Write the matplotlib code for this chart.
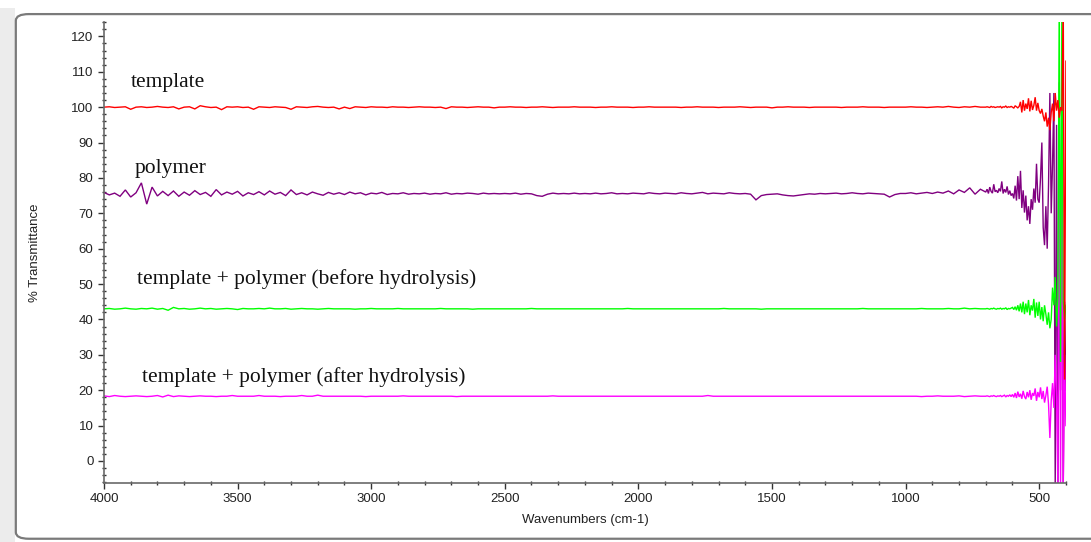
import numpy as np
import matplotlib
matplotlib.use("Agg")
import matplotlib.pyplot as plt
from matplotlib.patches import FancyBboxPatch, Rectangle
from matplotlib.ticker import MultipleLocator

# Wavenumber grids: 20 cm-1 over the flat region, 5 cm-1 over the low-frequency end
wn_flat = np.arange(4000, 719, -20)      # 4000 ... 720 cm-1
wn_tail = np.arange(700, 399, -5)        # 700 ... 400 cm-1

template_flat = [
    100.0, 100.1, 99.9, 100.0, 100.1, 99.4, 100.0, 100.1, 99.9, 100.0, 100.2, 100.0, 99.9, 100.1, 99.5,
    100.0, 100.1, 99.5, 100.4, 100.1, 99.9, 100.0, 99.3, 100.1, 100.0, 100.1, 99.9, 100.0, 99.4, 100.1,
    100.0, 99.9, 100.1, 100.0, 99.9, 99.4, 100.1, 100.0, 99.9, 100.1, 100.2, 100.0, 99.9, 100.0, 99.5,
    100.0, 99.6, 100.1, 100.0, 99.9, 100.1, 100.0, 100.0, 99.9, 100.1, 100.0, 100.0, 99.9, 100.0, 100.1,
    100.0, 100.0, 99.9, 100.0, 99.6, 100.1, 100.0, 100.0, 99.9, 100.0, 100.1, 100.0, 100.0, 99.8, 100.0,
    100.0, 100.1, 100.0, 100.0, 99.9, 100.0, 100.0, 100.1, 100.0, 99.9, 100.0, 100.0, 100.0, 100.1, 100.0,
    100.0, 100.0, 99.9, 100.0, 100.0, 100.1, 100.0, 100.0, 100.0, 99.9, 100.0, 100.0, 100.1, 100.0, 100.0,
    100.0, 100.0, 100.0, 99.9, 100.0, 100.0, 100.1, 100.0, 100.0, 100.0, 99.9, 100.0, 100.0, 100.0, 100.1,
    100.0, 99.9, 100.0, 100.0, 100.0, 99.8, 100.0, 100.0, 100.1, 100.0, 100.0, 100.0, 99.9, 100.0, 100.0,
    100.0, 100.0, 100.0, 99.9, 100.0, 100.0, 100.0, 100.1, 100.0, 100.0, 100.0, 99.9, 100.0, 100.0, 100.0,
    100.0, 100.1, 100.0, 100.0, 99.9, 100.0, 100.1, 100.0, 100.2, 100.0, 99.9, 100.1, 100.0, 100.2, 100.0,
]
template_tail = [
    100.0, 100.1, 100.0, 99.9, 100.2, 100.0, 100.1, 99.9, 100.0, 100.1,
    100.0, 100.2, 99.8, 100.1, 100.0, 100.3, 99.9, 100.1, 100.0, 100.2,
    100.0, 99.7, 100.4, 100.1, 99.8, 100.2, 101.5, 98.5, 102.0, 99.0,
    101.0, 99.5, 102.5, 98.8, 101.8, 99.2, 100.5, 102.8, 99.0, 101.2,
    99.0, 98.2, 99.5, 97.5, 96.0, 98.5, 94.5, 97.0, 93.5, 98.5,
    101.0, 96.0, 104.0, 99.0, 102.0, 97.0, 100.0, 99.0, 130.0, 23.0,
    113.0,
]

polymer_flat = [
    75.9, 75.2, 75.7, 74.8, 76.6, 74.6, 75.8, 78.6, 72.6, 77.4, 74.9, 76.2, 75.0, 76.3, 74.8,
    76.0, 75.1, 76.4, 75.3, 75.9, 74.8, 76.7, 75.2, 76.0, 75.4, 76.2, 74.9, 75.8, 75.3, 76.1,
    75.2, 76.3, 75.4, 75.9, 75.0, 76.6, 75.3, 75.8, 75.2, 76.0, 75.5, 75.1, 75.9, 75.4, 75.8,
    75.3, 76.0, 75.5, 75.8, 75.2, 75.7, 75.5, 75.9, 75.3, 75.6, 75.5, 75.8, 75.4, 75.6, 75.5,
    75.7, 75.4, 75.6, 75.5, 75.8, 75.4, 75.6, 75.5, 75.7, 75.6, 75.4, 75.7, 75.5, 75.6, 75.5,
    75.6, 75.5, 75.7, 75.4, 75.6, 75.5, 75.0, 74.8, 75.4, 75.7, 75.5, 75.6, 75.5, 75.7, 75.5,
    75.6, 75.5, 75.7, 75.5, 75.6, 75.8, 75.5, 75.6, 75.5, 75.7, 75.6, 75.5, 75.8, 75.6, 75.5,
    75.7, 75.6, 75.5, 75.8, 75.6, 75.5, 75.7, 75.9, 75.5, 75.7, 75.6, 75.5, 75.8, 75.6, 75.5,
    75.6, 75.4, 73.8, 75.0, 75.3, 75.4, 75.5, 75.2, 75.0, 74.9, 75.1, 75.3, 75.5, 75.4, 75.6,
    75.5, 75.6, 75.7, 75.5, 75.6, 75.8, 75.6, 75.5, 75.7, 75.6, 75.5, 75.4, 74.6, 75.3, 75.6,
    75.6, 75.8, 75.5, 75.7, 75.9, 75.6, 76.0, 75.7, 76.3, 75.5, 76.6, 75.9, 77.2, 75.4, 76.8,
]
polymer_tail = [
    76.0, 76.8, 75.6, 77.4, 76.2, 75.7, 78.2, 76.1, 76.5, 75.8,
    77.0, 76.2, 79.0, 75.6, 76.8, 75.9, 77.6, 75.3, 76.4, 75.0,
    75.6, 74.2, 77.8, 73.6, 80.5, 74.0, 82.0, 71.5, 76.5, 70.2,
    75.0, 68.0, 72.0, 67.0, 74.0, 71.0, 77.0, 73.0, 84.0, 74.0,
    73.0, 80.0, 90.0, 66.0, 61.0, 72.0, 60.0, 78.0, 104.0, 70.0,
    84.0, 104.0, -8.0, 95.0, -8.0, 60.0, 20.0, 92.0, -8.0, 45.0,
    20.0,
]

before_flat = [
    43.0, 43.1, 42.9, 43.0, 43.2, 43.0, 42.9, 43.1, 43.0, 43.2, 42.9, 43.1, 42.6, 43.4, 43.0,
    43.1, 42.9, 43.0, 43.2, 43.0, 43.1, 42.9, 43.0, 43.1, 43.0, 42.8, 43.1, 43.0, 43.0, 43.1,
    43.0, 43.2, 43.0, 43.0, 43.1, 42.9, 43.0, 43.1, 43.0, 43.0, 42.9, 43.0, 43.1, 43.0, 43.0,
    43.0, 43.0, 42.9, 43.0, 43.0, 43.1, 43.0, 43.0, 43.0, 43.0, 43.1, 43.0, 43.0, 43.0, 43.0,
    43.0, 43.0, 43.0, 43.1, 43.0, 43.0, 43.0, 43.0, 43.0, 42.9, 43.0, 43.0, 43.0, 43.0, 43.0,
    43.0, 43.0, 43.0, 43.0, 43.0, 43.1, 43.0, 43.0, 43.0, 43.0, 43.0, 43.0, 43.0, 43.0, 43.0,
    43.0, 43.0, 43.0, 43.0, 43.0, 43.0, 43.0, 43.0, 43.1, 43.0, 43.0, 43.0, 43.0, 43.0, 43.0,
    43.0, 43.0, 43.0, 43.0, 43.0, 43.0, 43.0, 43.0, 43.0, 43.0, 43.0, 43.1, 43.0, 43.0, 43.0,
    43.0, 43.0, 43.0, 42.9, 43.0, 43.0, 43.0, 43.0, 43.0, 43.0, 43.0, 43.0, 43.0, 43.0, 43.0,
    43.0, 43.0, 43.0, 43.0, 43.0, 43.0, 43.0, 43.1, 43.0, 43.0, 43.0, 43.0, 43.0, 43.0, 43.0,
    43.0, 43.0, 43.0, 43.1, 43.0, 43.0, 43.0, 43.0, 43.1, 43.0, 43.0, 43.2, 43.0, 43.1, 43.0,
]
before_tail = [
    43.0, 43.1, 43.0, 42.9, 43.1, 43.0, 43.2, 43.0, 42.9, 43.1,
    43.0, 43.2, 42.9, 43.1, 43.0, 43.3, 42.8, 43.1, 43.0, 43.2,
    43.4, 42.8, 43.6, 42.6, 44.0, 42.3, 44.5, 42.0, 45.0, 41.5,
    44.5, 42.0, 45.5, 41.2, 44.0, 42.5, 45.8, 40.5, 44.8, 41.0,
    45.0, 40.0, 43.5, 39.5, 44.0, 41.5, 38.5, 42.0, 37.5, 40.0,
    49.0, 44.0, 52.0, 38.0, 46.0, 130.0, 28.0, 130.0, 45.0, 40.0,
    44.0,
]

after_flat = [
    18.4, 18.2, 18.5, 18.3, 18.2, 18.3, 18.4, 18.3, 18.2, 18.3, 18.5, 18.1, 18.6, 18.2, 18.4,
    18.3, 18.2, 18.3, 18.4, 18.3, 18.3, 18.2, 18.3, 18.3, 18.5, 18.3, 18.3, 18.3, 18.3, 18.5,
    18.3, 18.3, 18.3, 18.2, 18.3, 18.3, 18.3, 18.5, 18.3, 18.3, 18.6, 18.3, 18.3, 18.3, 18.3,
    18.3, 18.3, 18.3, 18.3, 18.2, 18.3, 18.3, 18.3, 18.3, 18.3, 18.3, 18.4, 18.3, 18.3, 18.3,
    18.3, 18.3, 18.3, 18.3, 18.3, 18.3, 18.2, 18.3, 18.3, 18.3, 18.3, 18.3, 18.3, 18.3, 18.3,
    18.3, 18.3, 18.3, 18.3, 18.3, 18.3, 18.3, 18.3, 18.3, 18.4, 18.3, 18.3, 18.3, 18.3, 18.3,
    18.3, 18.3, 18.3, 18.3, 18.3, 18.3, 18.3, 18.3, 18.3, 18.3, 18.3, 18.3, 18.3, 18.3, 18.3,
    18.3, 18.3, 18.3, 18.3, 18.3, 18.3, 18.3, 18.3, 18.5, 18.3, 18.3, 18.3, 18.3, 18.3, 18.3,
    18.3, 18.3, 18.3, 18.3, 18.3, 18.3, 18.3, 18.3, 18.3, 18.3, 18.3, 18.3, 18.3, 18.3, 18.3,
    18.3, 18.3, 18.3, 18.3, 18.3, 18.3, 18.3, 18.3, 18.3, 18.3, 18.3, 18.3, 18.3, 18.3, 18.3,
    18.3, 18.3, 18.3, 18.2, 18.3, 18.3, 18.4, 18.3, 18.3, 18.3, 18.4, 18.2, 18.3, 18.4, 18.3,
]
after_tail = [
    18.3, 18.4, 18.3, 18.2, 18.4, 18.3, 18.5, 18.3, 18.2, 18.4,
    18.3, 18.5, 18.2, 18.4, 18.6, 18.1, 18.5, 18.3, 18.7, 18.2,
    18.8, 18.0, 19.2, 17.8, 19.6, 18.1, 19.0, 17.6, 19.8, 18.2,
    17.5, 19.5, 18.0, 20.0, 17.3, 19.2, 18.4, 20.5, 17.0, 19.5,
    18.0, 20.8, 17.5, 19.8, 16.5, 18.5, 21.0, 16.0, 6.5, 17.0,
    22.0, 15.0, 30.0, 18.0, -8.0, 107.0, -8.0, 100.0, -8.0, 30.0,
    10.0,
]

labels = [
    "template",
    "polymer",
    "template + polymer (before hydrolysis)",
    "template + polymer (after hydrolysis)",
]
label_pos = [(3900, 107.0), (3885, 82.8), (3877, 51.4), (3858, 23.7)]
colors = ["#ff0000", "#800080", "#00ff00", "#ff00ff"]

wn = np.concatenate([wn_flat, wn_tail])
spectra = [
    np.concatenate([template_flat, template_tail]),
    np.concatenate([polymer_flat, polymer_tail]),
    np.concatenate([before_flat, before_tail]),
    np.concatenate([after_flat, after_tail]),
]

fig = plt.figure(figsize=(10.91, 5.42), dpi=100)
fig.patch.set_facecolor("white")

# light strip and rounded panel frame
fig.patches.append(Rectangle((0, 0), 0.014, 0.985, transform=fig.transFigure,
                             facecolor="#ececec", edgecolor="none", zorder=0))
fig.patches.append(FancyBboxPatch((0.0145, 0.006), 1.2, 0.968,
                                  boxstyle="round,pad=0,rounding_size=0.012",
                                  transform=fig.transFigure, facecolor="white",
                                  edgecolor="#7a7a7a", linewidth=1.6, zorder=1))

ax = fig.add_axes([0.0953, 0.109, 0.8817, 0.850])
ax.set_zorder(2)
ax.patch.set_alpha(0)

draw_order = [1, 3, 2, 0]
for i in draw_order:
    ax.plot(wn, spectra[i], color=colors[i], lw=1.0, solid_joinstyle="miter")

for text, (x, y) in zip(labels, label_pos):
    ax.text(x, y, text, family="Liberation Serif", fontsize=15.5, color="#111111",
            ha="left", va="center")

ax.set_xlim(4000, 400)
ax.set_ylim(-6.2, 124)
ax.xaxis.set_major_locator(MultipleLocator(500))
ax.xaxis.set_minor_locator(MultipleLocator(100))
ax.yaxis.set_major_locator(MultipleLocator(10))
ax.yaxis.set_minor_locator(MultipleLocator(2))
ax.set_yticks(np.arange(0, 121, 10))

for side in ("top", "right"):
    ax.spines[side].set_visible(False)
for side in ("left", "bottom"):
    ax.spines[side].set_color("#6a6a6a")
    ax.spines[side].set_linewidth(1.2)

ax.tick_params(axis="both", which="major", direction="out", length=4,
               width=1.0, color="#333333", labelsize=9.5, labelcolor="#222222")
ax.tick_params(axis="both", which="minor", direction="inout", length=3,
               width=1.0, color="#333333")
for lbl in ax.get_xticklabels() + ax.get_yticklabels():
    lbl.set_family("Liberation Sans")

ax.set_xlabel("Wavenumbers (cm-1)", family="Liberation Sans", fontsize=9.5,
              color="#222222", labelpad=6)
ax.set_ylabel("% Transmittance", family="Liberation Sans", fontsize=9.5,
              color="#222222", labelpad=22)

fig.savefig("out.png", dpi=100)
